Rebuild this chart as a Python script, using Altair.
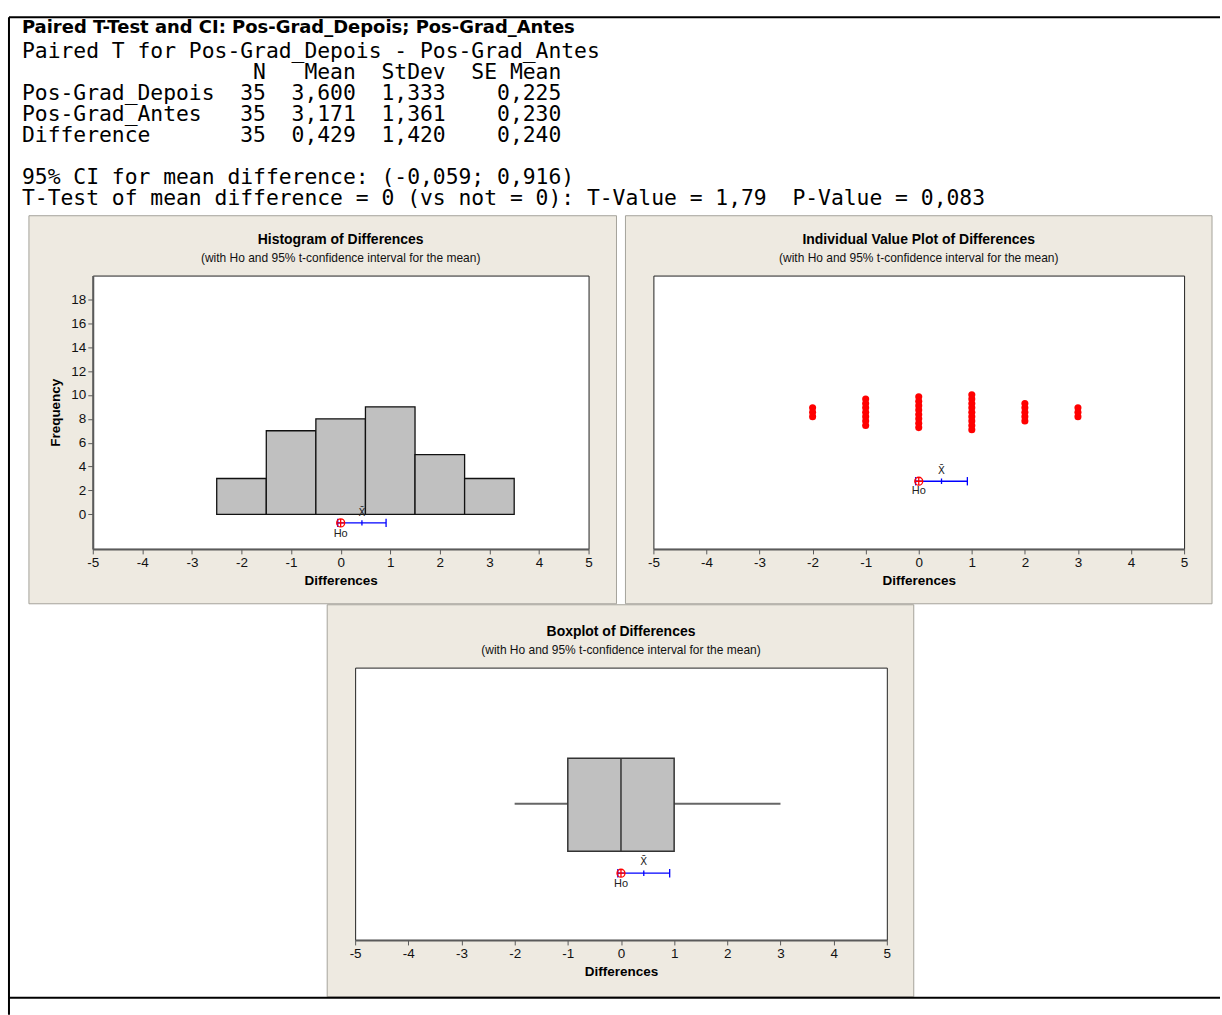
import altair as alt
import pandas as pd

# ------------------------------------------------------------------ data
report_title = "Paired T-Test and CI: Pos-Grad_Depois; Pos-Grad_Antes"
report_heading = "Paired T for Pos-Grad_Depois - Pos-Grad_Antes"
col_headers = ["N", "Mean", "StDev", "SE Mean"]
sample_names = ["Pos-Grad_Depois", "Pos-Grad_Antes", "Difference"]
sample_n = [35, 35, 35]
sample_mean = ["3,600", "3,171", "0,429"]
sample_stdev = ["1,333", "1,361", "1,420"]
sample_se_mean = ["0,225", "0,230", "0,240"]
ci_line = "95% CI for mean difference: (-0,059; 0,916)"
test_line = "T-Test of mean difference = 0 (vs not = 0): T-Value = 1,79  P-Value = 0,083"

diff_values = [-2, -1, 0, 1, 2, 3]
diff_counts = [3, 7, 8, 9, 5, 3]
mean_diff = 0.429
ci_low = -0.059
ci_high = 0.916
h0_value = 0
box_q1, box_median, box_q3 = -1, 0, 1
whisker_low, whisker_high = -2, 3

panel_titles = ["Histogram of Differences", "Individual Value Plot of Differences", "Boxplot of Differences"]
panel_subtitle = "(with Ho and 95% t-confidence interval for the mean)"
x_title = "Differences"
y_title = "Frequency"
x_ticks = list(range(-5, 6))
y_ticks = list(range(0, 20, 2))
mean_label = "X\u0304"
h0_label = "Ho"

# ------------------------------------------------------------------ style
FONT = "Liberation Sans"
MONO = "DejaVu Sans Mono"
BEIGE = "#EEEAE1"
PANEL_EDGE = "#A5A39B"
GRID = "#5a5a5a"
RED = "#FF0000"
BLUE = "#0000FF"
NB = "\u00a0"
ZW = "\u200b"

one = pd.DataFrame({"k": [0]})


def mono(s):
    return ZW + s.replace(" ", NB) if s else ZW


table_lines = [f"{'':15}  {col_headers[0]:>2}  {col_headers[1]:>5}  {col_headers[2]:>5}  {col_headers[3]:>7}"]
for nm, n, m, sd, se in zip(sample_names, sample_n, sample_mean, sample_stdev, sample_se_mean):
    table_lines.append(f"{nm:<15}  {n:>2}  {m:>5}  {sd:>5}  {se:>7}")
lines = [report_heading] + table_lines + ["", ci_line, test_line]

# ------------------------------------------------------------------ header view (page coordinates)
hdr_df = pd.DataFrame({"line": [mono(s) for s in lines], "row": list(range(len(lines)))})
hdr_df = hdr_df[hdr_df["line"] != ZW]


def rect(x1, x2, y1, y2, **kw):
    return alt.Chart(one).mark_rect(**kw).encode(
        x=alt.value(x1), x2=alt.value(x2), y=alt.value(y1), y2=alt.value(y2))


page_bg = rect(0, 1222, 0, 1015, fill="white")
panel_bgs = [
    rect(28, 617, 214, 603, fill=BEIGE, stroke=PANEL_EDGE, strokeWidth=1),
    rect(626, 1214, 214, 603, fill=BEIGE, stroke=PANEL_EDGE, strokeWidth=1),
    rect(327, 915, 604, 997, fill=BEIGE, stroke=PANEL_EDGE, strokeWidth=1),
]
hdr_title = alt.Chart(pd.DataFrame({"t": [report_title]})).mark_text(
    align="left", baseline="middle", font="DejaVu Sans", fontWeight="bold", fontSize=18, color="black"
).encode(x=alt.value(21), y=alt.value(26), text="t:N")
hdr_text = alt.Chart(hdr_df).mark_text(
    align="left", baseline="middle", font=MONO, fontSize=21.4, color="black"
).encode(
    x=alt.value(21),
    y=alt.Y("row:Q", scale=alt.Scale(domain=[0, 7], range=[50, 197]), axis=None),
    text="line:N",
)
frame_top = alt.Chart(one).mark_rule(color="black", strokeWidth=2).encode(
    x=alt.value(8), x2=alt.value(1222), y=alt.value(15))
frame_left = alt.Chart(one).mark_rule(color="black", strokeWidth=2).encode(
    x=alt.value(8), y=alt.value(15), y2=alt.value(1015))
frame_bottom = alt.Chart(one).mark_rule(color="black", strokeWidth=2).encode(
    x=alt.value(8), x2=alt.value(1222), y=alt.value(998))

header = alt.layer(page_bg, *panel_bgs, hdr_title, hdr_text, frame_top, frame_left, frame_bottom).properties(
    width=1222, height=274)


# ------------------------------------------------------------------ axes (identical in every layer)
LABEL_EXPR = "datum.value + ''"
AXIS_STYLE = dict(grid=False, labelExpr=LABEL_EXPR, domainColor=GRID, domainWidth=2, tickColor=GRID,
                  tickSize=5, tickWidth=1, labelFont=FONT, labelFontSize=13.5, labelColor="#111",
                  labelPadding=2, labelFlush=False, labelOverlap=False, titleFont=FONT,
                  titleFontSize=13.5, titleFontWeight="bold", titleColor="black", zindex=1)
X_AXIS = alt.Axis(values=x_ticks, title=x_title, titlePadding=4, orient="bottom", **AXIS_STYLE)
Y_AXIS = alt.Axis(values=y_ticks, title=y_title, titlePadding=8, orient="left", **AXIS_STYLE)

XS = alt.Scale(domain=[-5, 5], nice=False, zero=False)
VIEW = alt.ViewBackground(fill="white", stroke="#222222", strokeWidth=1)


def xf(field):
    return alt.X(field, type="quantitative", scale=XS, axis=X_AXIS)


def title_layers(w, title):
    t = alt.Chart(pd.DataFrame({"t": [title]})).mark_text(
        font=FONT, fontSize=14, fontWeight="bold", align="center", baseline="middle", color="black"
    ).encode(x=alt.value(w / 2), y=alt.value(-36), text="t:N")
    st = alt.Chart(pd.DataFrame({"t": [panel_subtitle]})).mark_text(
        font=FONT, fontSize=12, align="center", baseline="middle", color="#111"
    ).encode(x=alt.value(w / 2), y=alt.value(-18), text="t:N")
    return [t, st]


CIRCLE_PLUS = "M-1,0A1,1,0,1,0,1,0A1,1,0,1,0,-1,0ZM-1,0L1,0M0,-1L0,1"
VBAR = "M0,-1L0,1"

ci_df = pd.DataFrame({"lo": [ci_low], "hi": [ci_high], "mean": [mean_diff], "h0": [h0_value],
                      "ml": [mean_label], "hl": [h0_label]})


def ci_layers(yenc_fn, y_ci, y_mean_lab, y_h0_lab):
    line = alt.Chart(ci_df).mark_rule(color=BLUE, strokeWidth=1.3).encode(
        x=xf("lo"), x2="hi", y=yenc_fn(y_ci))
    caps = [
        alt.Chart(ci_df).mark_point(shape=VBAR, size=70, filled=False, color=BLUE, strokeWidth=1.3,
                                    opacity=1).encode(x=xf(f), y=yenc_fn(y_ci))
        for f in ["lo", "hi"]
    ]
    mtick = alt.Chart(ci_df).mark_point(shape=VBAR, size=30, filled=False, color=BLUE, strokeWidth=1.3,
                                        opacity=1).encode(x=xf("mean"), y=yenc_fn(y_ci))
    h0 = alt.Chart(ci_df).mark_point(shape=CIRCLE_PLUS, size=64, filled=False, color=RED, strokeWidth=1.3,
                                     opacity=1).encode(x=xf("h0"), y=yenc_fn(y_ci))
    mlab = alt.Chart(ci_df).mark_text(font="DejaVu Sans", fontSize=10, color="#222", baseline="middle").encode(
        x=xf("mean"), y=yenc_fn(y_mean_lab), text="ml:N")
    hlab = alt.Chart(ci_df).mark_text(font=FONT, fontSize=11, color="#222", baseline="middle").encode(
        x=xf("h0"), y=yenc_fn(y_h0_lab), text="hl:N")
    return [line] + caps + [mtick, h0, mlab, hlab]


# ------------------------------------------------------------------ histogram panel
HW, HH = 497, 274
hist_df = pd.DataFrame({"start": [v - 0.5 for v in diff_values],
                        "end": [v + 0.5 for v in diff_values],
                        "count": diff_counts})
HYS = alt.Scale(domain=[-2.9, 20], nice=False, zero=False)


def hy(v):
    return alt.YDatum(v, type="quantitative", scale=HYS, axis=Y_AXIS)


bars = alt.Chart(hist_df).mark_rect(fill="#C0C0C0", stroke="#111", strokeWidth=1.3).encode(
    x=xf("start"), x2="end",
    y=alt.Y("count:Q", scale=HYS, axis=Y_AXIS), y2=alt.Y2Datum(0))
hist = alt.layer(bars, *ci_layers(hy, -0.72, 0.13, -1.62), *title_layers(HW, panel_titles[0])).properties(
    width=HW, height=HH, view=VIEW)

# ------------------------------------------------------------------ individual value panel
IW, IH = 532, 274
ivp_x, ivp_y = [], []
for v, c in zip(diff_values, diff_counts):
    for k in range(c):
        ivp_x.append(v)
        ivp_y.append(k - (c - 1) / 2)
ivp_df = pd.DataFrame({"d": ivp_x, "stack": ivp_y})
IYS = alt.Scale(domain=[-31.1, 31.1], nice=False, zero=False)


def iy(v):
    return alt.YDatum(v, type="quantitative", scale=IYS, axis=None)


dots = alt.Chart(ivp_df).mark_circle(size=50, color=RED, opacity=1).encode(
    x=xf("d"), y=alt.Y("stack:Q", scale=IYS, axis=None))
ivp = alt.layer(dots, *ci_layers(iy, -15.7, -13.4, -17.9), *title_layers(IW, panel_titles[1])).properties(
    width=IW, height=IH, view=VIEW)

# ------------------------------------------------------------------ boxplot panel
BW, BH = 533, 273
BYS = alt.Scale(domain=[0, 1], nice=False, zero=False)


def by(v):
    return alt.YDatum(v, type="quantitative", scale=BYS, axis=None)


box_df = pd.DataFrame({"q1": [box_q1], "med": [box_median], "q3": [box_q3],
                       "lo": [whisker_low], "hi": [whisker_high]})
wl = alt.Chart(box_df).mark_rule(color="#666", strokeWidth=2).encode(
    x=xf("lo"), x2="q1", y=by(0.5))
wh = alt.Chart(box_df).mark_rule(color="#666", strokeWidth=2).encode(
    x=xf("q3"), x2="hi", y=by(0.5))
boxr = alt.Chart(box_df).mark_rect(fill="#C0C0C0", stroke="#333", strokeWidth=1.5).encode(
    x=xf("q1"), x2="q3", y=by(0.326), y2=alt.Y2Datum(0.667))
medr = alt.Chart(box_df).mark_rule(color="#333", strokeWidth=1.5).encode(
    x=xf("med"), y=by(0.326), y2=alt.Y2Datum(0.667))
box = alt.layer(wl, wh, boxr, medr, *ci_layers(by, 0.245, 0.286, 0.205), *title_layers(BW, panel_titles[2])).properties(
    width=BW, height=BH, view=VIEW)


# ------------------------------------------------------------------ layout
def spacer(w, h):
    return alt.Chart(one).mark_point(opacity=0, size=1).encode(x=alt.value(0), y=alt.value(0)).properties(
        width=w, height=h)


row2 = alt.hconcat(spacer(92, HH), hist, spacer(65, HH), ivp, spacing=0, bounds="flush")
row3 = alt.hconcat(spacer(355, BH), box, spacing=0, bounds="flush")

# nested concat groups count as zero height under flush bounds, so the gap spans row 2 as well
chart = alt.vconcat(header, row2, spacer(10, 274 + 119), row3, spacing=0, bounds="flush").properties(
    padding=0, background="white"
).configure_view(
    stroke="transparent"
).configure_axis(
    domainColor=GRID, domainWidth=2, tickColor=GRID, tickSize=5, tickWidth=1,
    labelFont=FONT, labelFontSize=13.5, labelColor="#111", labelPadding=2,
    labelFlush=False, labelOverlap=False,
    titleFont=FONT, titleFontSize=13.5, titleFontWeight="bold", titleColor="black",
)

chart.save("out.html", embed_options={"renderer": "svg", "actions": False})
